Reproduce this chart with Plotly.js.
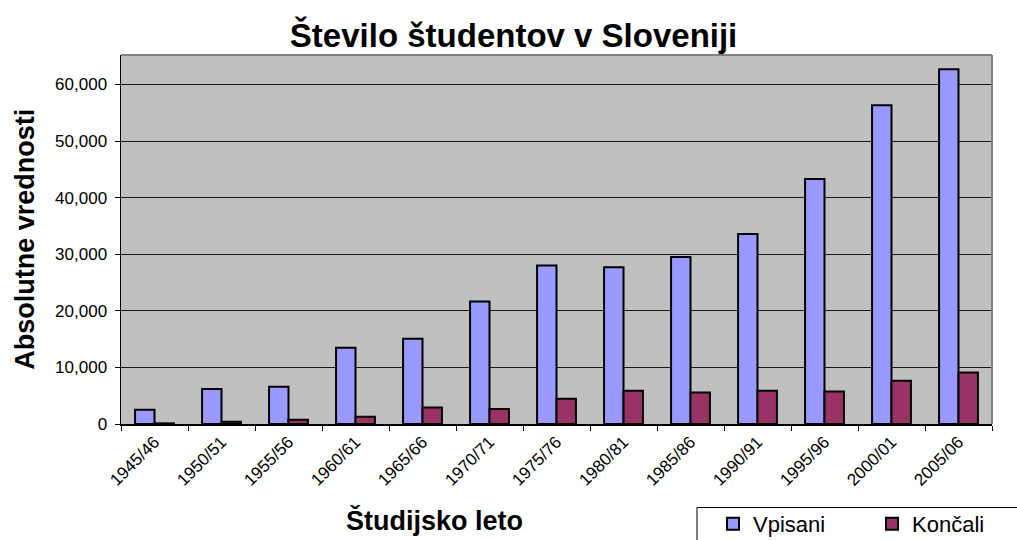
<!DOCTYPE html>
<html>
<head>
<meta charset="utf-8">
<script src="https://cdn.plot.ly/plotly-3.0.1.min.js"></script>
<style>html,body{margin:0;padding:0;background:#fff;}#chart{width:1017px;height:540px;}</style>
</head>
<body>
<div id="chart"></div>
<script>
const years = ["1945/46","1950/51","1955/56","1960/61","1965/66","1970/71","1975/76","1980/81","1985/86","1990/91","1995/96","2000/01","2005/06"];
const vpisani = [2520, 6180, 6580, 13460, 15050, 21640, 27990, 27700, 29520, 33580, 43290, 56340, 62700];
const koncali = [120, 400, 760, 1290, 2930, 2640, 4460, 5870, 5580, 5870, 5750, 7640, 9110];
const seriesNames = ["Vpisani", "Končali"];
const titleText = "Število študentov v Sloveniji";
const xTitle = "Študijsko leto";
const yTitle = "Absolutne vrednosti";

const FONT = "Liberation Sans, Arial, Helvetica, sans-serif";

const traces = [
  {type: "bar", name: seriesNames[0], x: years, y: vpisani,
   marker: {color: "#9999FF", line: {color: "#000000", width: 2}}, hoverinfo: "x+y"},
  {type: "bar", name: seriesNames[1], x: years, y: koncali,
   marker: {color: "#993366", line: {color: "#000000", width: 2}}, hoverinfo: "x+y"}
];

const layout = {
  width: 1017, height: 540,
  margin: {l: 121, r: 25, t: 55, b: 116, pad: 0, autoexpand: false},
  paper_bgcolor: "#FFFFFF",
  plot_bgcolor: "#C0C0C0",
  font: {family: FONT, color: "#000000", size: 17},
  barmode: "group", bargap: 0.42, bargroupgap: 0,
  title: {text: "<b>" + titleText + "</b>", font: {family: FONT, size: 33, color: "#000"},
          xref: "container", x: 0.505, xanchor: "center", yref: "container", y: 0.935, yanchor: "middle"},
  xaxis: {type: "category", tickson: "boundaries", ticks: "outside", ticklen: 5, tickwidth: 1, tickcolor: "#000",
          tickangle: -45, tickfont: {size: 17, family: FONT}, automargin: false,
          showline: true, linecolor: "#000", linewidth: 1.5, showgrid: false, zeroline: false,
          fixedrange: true},
  yaxis: {range: [0, 65200], tickvals: [0, 10000, 20000, 30000, 40000, 50000, 60000], tickformat: ",d",
          ticks: "outside", ticklen: 5, tickwidth: 1, tickcolor: "#000", tickfont: {size: 17, family: FONT},
          ticklabelstandoff: 4, automargin: false,
          showline: true, linecolor: "#000", linewidth: 1.5,
          showgrid: true, gridcolor: "#1a1a1a", gridwidth: 1, zeroline: false, fixedrange: true},
  showlegend: true,
  legend: {orientation: "h", xref: "container", yref: "container", x: 713 / 1017, xanchor: "left", y: 1 - 503 / 540, yanchor: "top",
           bgcolor: "rgba(0,0,0,0)", borderwidth: 0,
           font: {size: 22, family: FONT, color: "#000"}, entrywidth: 114, entrywidthmode: "pixels",
           traceorder: "normal"},
  annotations: [
    {text: "<b>" + xTitle + "</b>", xref: "paper", yref: "paper", x: 0.3597, y: -0.2618,
     xanchor: "center", yanchor: "middle", showarrow: false, font: {size: 27, family: FONT, color: "#000"}},
    {text: "<b>" + yTitle + "</b>", xref: "paper", yref: "paper", x: -0.111, y: 0.5, textangle: -90,
     xanchor: "center", yanchor: "middle", showarrow: false, font: {size: 27, family: FONT, color: "#000"}}
  ],
  shapes: [
    {type: "line", xref: "paper", yref: "paper", x0: 0, x1: 1, y0: 1, y1: 1, line: {color: "#808080", width: 2}, layer: "above"},
    {type: "line", xref: "paper", yref: "paper", x0: 1, x1: 1, y0: 0, y1: 1, line: {color: "#808080", width: 2}, layer: "above"},
    {type: "rect", xref: "paper", yref: "paper", x0: (697 - 121) / 871, x1: (1030 - 121) / 871,
     y0: (424 - 507.5) / 369, y1: (424 - 560) / 369, line: {color: "#000", width: 1}, fillcolor: "#FFFFFF", layer: "below"}
  ]
};

Plotly.newPlot("chart", traces, layout, {displayModeBar: false, staticPlot: true});
</script>
</body>
</html>
